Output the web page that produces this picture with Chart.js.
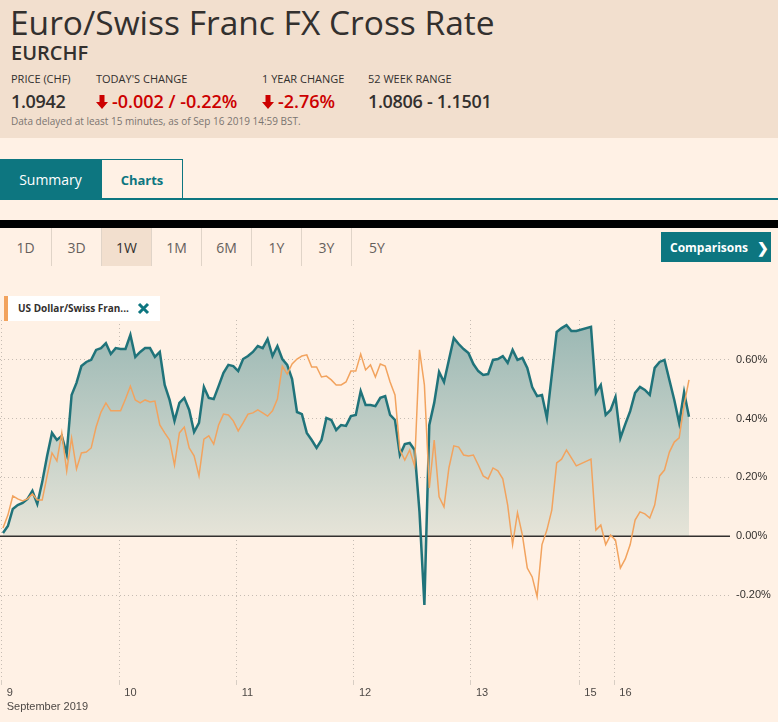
<!DOCTYPE html>
<html>
<head>
<meta charset="utf-8">
<title>Euro/Swiss Franc FX Cross Rate</title>
<script src="https://cdn.jsdelivr.net/npm/chart.js@4.4.1/dist/chart.umd.min.js"></script>
<style>
  html, body { margin: 0; padding: 0; }
  body {
    width: 778px; height: 722px; position: relative; overflow: hidden;
    background: #fff1e5; color: #33302e;
    font-family: 'Open Sans', sans-serif;
  }
  .abs { position: absolute; white-space: nowrap; line-height: 1; }
  #header { position: absolute; left: 0; top: 0; width: 778px; height: 138px; background: #f2dfce; }
  .lbl { font-size: 11px; top: 73px; }
  .val { font-size: 18px; top: 92px; font-weight: 600; letter-spacing: -0.3px; }
  .red { color: #cc0000; letter-spacing: 0; }
  .red svg { vertical-align: -1px; margin-right: 4px; }
  .tab { position: absolute; top: 159px; height: 40px; display: flex; align-items: center; justify-content: center; box-sizing: border-box; }
  .range { position: absolute; top: 228px; width: 50px; height: 38px; display: flex; align-items: center; justify-content: center; font-size: 14px; color: #66605c; border-right: 1px solid #e0d4c8; box-sizing: border-box; }
  #chart-wrap { position: absolute; left: 0; top: 300px; width: 778px; height: 422px; }
</style>
</head>
<body>
<div id="header"></div>
<div class="abs" style="left:10px;top:6px;font-size:33.5px;">Euro/Swiss Franc FX Cross Rate</div>
<div class="abs" style="left:11px;top:43px;font-size:20px;font-weight:600;">EURCHF</div>

<div class="abs lbl" style="left:11px;">PRICE (CHF)</div>
<div class="abs lbl" style="left:96px;">TODAY'S CHANGE</div>
<div class="abs lbl" style="left:262px;">1 YEAR CHANGE</div>
<div class="abs lbl" style="left:368px;">52 WEEK RANGE</div>

<div class="abs val" style="left:11px;">1.0942</div>
<div class="abs val red" style="left:96px;"><svg width="12" height="14" viewBox="0 0 12 14"><path d="M3.5 0h5v7h3.5L6 14 0 7h3.5z" fill="#cc0000"/></svg>-0.002 / -0.22%</div>
<div class="abs val red" style="left:262px;"><svg width="12" height="14" viewBox="0 0 12 14"><path d="M3.5 0h5v7h3.5L6 14 0 7h3.5z" fill="#cc0000"/></svg>-2.76%</div>
<div class="abs val" style="left:368px;">1.0806 - 1.1501</div>
<div class="abs" style="left:11px;top:116px;font-size:10px;color:#7a7470;">Data delayed at least 15 minutes, as of Sep 16 2019 14:59 BST.</div>

<div class="tab" style="left:0;width:101px;background:#0d7680;color:#fff;font-size:14px;">Summary</div>
<div class="tab" style="left:101px;width:82px;border:1px solid #0d7680;border-bottom:none;color:#0d7680;font-size:13px;font-weight:700;">Charts</div>
<div style="position:absolute;left:0;top:198px;width:778px;height:2px;background:#0d7680;"></div>

<div style="position:absolute;left:0;top:220px;width:778px;height:8px;background:#000;"></div>
<div class="range" style="left:0;width:52px;">1D</div>
<div class="range" style="left:52px;">3D</div>
<div class="range" style="left:102px;background:#f2dfce;color:#33302e;">1W</div>
<div class="range" style="left:152px;">1M</div>
<div class="range" style="left:202px;">6M</div>
<div class="range" style="left:252px;">1Y</div>
<div class="range" style="left:302px;">3Y</div>
<div class="range" style="left:352px;border-right:none;">5Y</div>
<div style="position:absolute;left:661px;top:232px;width:110px;height:30px;background:#0d7680;color:#fff;font-size:12px;font-weight:700;display:flex;align-items:center;">
  <span style="margin-left:9px;">Comparisons</span><span style="margin-left:9px;font-size:14px;">&#10095;</span>
</div>

<div id="chart-wrap"><canvas id="fx-chart"></canvas></div>

<div style="position:absolute;left:4px;top:296px;width:156px;height:25px;background:#fff;">
  <div style="position:absolute;left:0;top:0;width:4px;height:25px;background:#f2a35e;"></div>
  <div class="abs" style="left:14px;top:7px;font-size:10px;font-weight:700;">US Dollar/Swiss Fran...</div>
  <svg style="position:absolute;left:133px;top:6px;" width="13" height="13" viewBox="0 0 13 13"><path d="M2 2L11 11M11 2L2 11" stroke="#0d7680" stroke-width="3"/></svg>
</div>

<script>
// x positions are trading-time index units (one step ~ one hour of the 1W view)
const dayTickPos = [-0.27, 23.73, 47.69, 71.63, 95.51, 117.61, 124.76];
const dayLabels = ['9', '10', '11', '12', '13', '15', '16'];
const monthLabel = 'September 2019';
const yTicks = [-0.2, 0, 0.2, 0.4, 0.6];

// % change since start of the week, null = weekend (joined by a flat line)
const eurchf = [
  0.011, 0.035, 0.093, 0.106, 0.113, 0.127, 0.154, 0.110, 0.184, 0.273,
  0.351, 0.327, 0.341, 0.280, 0.480, 0.521, 0.578, 0.592, 0.599, 0.633,
  0.639, 0.656, 0.619, 0.639, 0.636, 0.636, 0.684, 0.609, 0.626, 0.639,
  0.639, 0.609, 0.626, 0.514, 0.463, 0.392, 0.453, 0.470, 0.429, 0.354,
  0.385, 0.507, 0.470, 0.466, 0.510, 0.555, 0.582, 0.578, 0.561, 0.602,
  0.612, 0.626, 0.646, 0.639, 0.670, 0.612, 0.646, 0.602, 0.582, 0.534,
  0.422, 0.415, 0.351, 0.327, 0.300, 0.327, 0.402, 0.395, 0.361, 0.378,
  0.375, 0.408, 0.412, 0.493, 0.446, 0.446, 0.442, 0.470, 0.476, 0.412,
  0.395, 0.276, 0.313, 0.317, 0.293, 0.083, -0.233, 0.378, 0.453, 0.558,
  0.524, 0.599, 0.673, 0.653, 0.636, 0.622, 0.585, 0.561, 0.548, 0.551,
  0.599, 0.602, 0.612, 0.589, 0.633, 0.599, 0.606, 0.572, 0.507, 0.476,
  0.480, 0.402, 0.548, 0.694, 0.707, 0.717, 0.697, 0.697, null, null,
  0.711, 0.487, 0.514, 0.412, 0.429, 0.473, 0.334, 0.381, 0.425, 0.487,
  0.507, 0.497, 0.480, 0.572, 0.592, 0.599, 0.531, 0.463, 0.385, 0.490,
  0.406
];

const usdchf = [
  0.028, 0.072, 0.137, 0.127, 0.120, 0.127, 0.144, 0.123, 0.123, 0.205,
  0.283, 0.256, 0.351, 0.222, 0.334, 0.229, 0.283, 0.286, 0.300, 0.371,
  0.422, 0.453, 0.426, 0.426, 0.426, 0.466, 0.510, 0.463, 0.453, 0.463,
  0.456, 0.459, 0.378, 0.351, 0.327, 0.242, 0.351, 0.371, 0.300, 0.273,
  0.205, 0.330, 0.341, 0.313, 0.378, 0.415, 0.412, 0.392, 0.358, 0.385,
  0.415, 0.419, 0.429, 0.419, 0.408, 0.426, 0.466, 0.578, 0.551, 0.585,
  0.602, 0.612, 0.616, 0.575, 0.575, 0.541, 0.544, 0.531, 0.514, 0.514,
  0.524, 0.561, 0.561, 0.619, 0.565, 0.582, 0.541, 0.585, 0.578, 0.524,
  0.480, 0.293, 0.259, 0.293, 0.239, 0.633, 0.514, 0.164, 0.327, 0.134,
  0.100, 0.232, 0.307, 0.303, 0.276, 0.273, 0.276, 0.242, 0.205, 0.195,
  0.232, 0.222, 0.195, 0.106, -0.028, 0.080, 0.004, -0.108, -0.138, -0.205,
  -0.028, 0.021, 0.089, 0.249, 0.262, 0.293, 0.266, 0.239, null, null,
  0.262, 0.021, 0.038, -0.028, 0.004, -0.013, -0.108, -0.077, -0.028, 0.055,
  0.083, 0.076, 0.062, 0.106, 0.205, 0.225, 0.286, 0.320, 0.334, 0.446,
  0.531
];

const toPoints = arr => arr.map((v, i) => ({ x: i, y: v }));

// solid zero line, drawn over the fill but under the lines
const zeroLine = {
  id: 'zeroLine',
  beforeDatasetsDraw(chart) {
    const { ctx, chartArea, scales } = chart;
    const y = Math.round(scales.y.getPixelForValue(0)) + 0.25;
    ctx.save();
    ctx.strokeStyle = '#33302e';
    ctx.lineWidth = 1.5;
    ctx.beginPath();
    ctx.moveTo(chartArea.left, y);
    ctx.lineTo(chartArea.right, y);
    ctx.stroke();
    ctx.restore();
  }
};

function areaGradient(context) {
  const chart = context.chart;
  const { chartArea, scales } = chart;
  if (!chartArea) return 'rgba(0,0,0,0)';
  const top = scales.y.getPixelForValue(0.72);
  const bottom = scales.y.getPixelForValue(0);
  const g = chart.ctx.createLinearGradient(0, top, 0, bottom);
  g.addColorStop(0, '#9bb8b4');
  g.addColorStop(1, '#e6e4d8');
  return g;
}

Chart.defaults.font.family = "'Liberation Sans', Arial, sans-serif";
Chart.defaults.font.size = 11;

new Chart(document.getElementById('fx-chart'), {
  type: 'line',
  data: {
    datasets: [
      {
        label: 'US Dollar/Swiss Franc',
        data: toPoints(usdchf),
        borderColor: '#f2a35e',
        borderWidth: 1.5,
        pointRadius: 0,
        fill: false,
        spanGaps: true,
        order: 0
      },
      {
        label: 'Euro/Swiss Franc',
        data: toPoints(eurchf),
        borderColor: '#20737a',
        borderWidth: 2.5,
        backgroundColor: areaGradient,
        pointRadius: 0,
        fill: 'origin',
        spanGaps: true,
        order: 1
      }
    ]
  },
  options: {
    responsive: true,
    maintainAspectRatio: false,
    animation: false,
    layout: { padding: { top: 20, left: 0, right: 0, bottom: 0 } },
    plugins: {
      legend: { display: false },
      tooltip: { enabled: false },
      filler: { drawTime: 'beforeDatasetsDraw' }
    },
    scales: {
      x: {
        type: 'linear',
        min: -0.612,
        max: 148.37,
        afterBuildTicks: axis => { axis.ticks = dayTickPos.map(v => ({ value: v })); },
        afterFit: axis => { axis.height = 42; },
        grid: { color: '#c6bcb3', lineWidth: 1, tickLength: 5, tickColor: '#d8cec4', tickBorderDash: [] },
        border: { display: false, dash: [1, 3] },
        ticks: {
          align: 'start',
          labelOffset: 5,
          padding: 1,
          maxRotation: 0,
          autoSkip: false,
          color: '#4d4845',
          font: { size: 11, lineHeight: 1.25 },
          callback: (v, i) => i === 0 ? [dayLabels[0], monthLabel] : dayLabels[i]
        }
      },
      y: {
        position: 'right',
        min: -0.488,
        max: 0.7345,
        afterBuildTicks: axis => { axis.ticks = yTicks.map(v => ({ value: v })); },
        afterFit: axis => { axis.width = 48; },
        grid: {
          color: ctx => (ctx.tick && ctx.tick.value === 0) ? 'rgba(0,0,0,0)' : '#c6bcb3',
          lineWidth: 1,
          drawTicks: false
        },
        border: { display: false, dash: [1, 3] },
        ticks: {
          padding: 6,
          color: '#33302e',
          font: { size: 11 },
          callback: v => v.toFixed(2) + '%'
        }
      }
    }
  },
  plugins: [zeroLine]
});
</script>
</body>
</html>
